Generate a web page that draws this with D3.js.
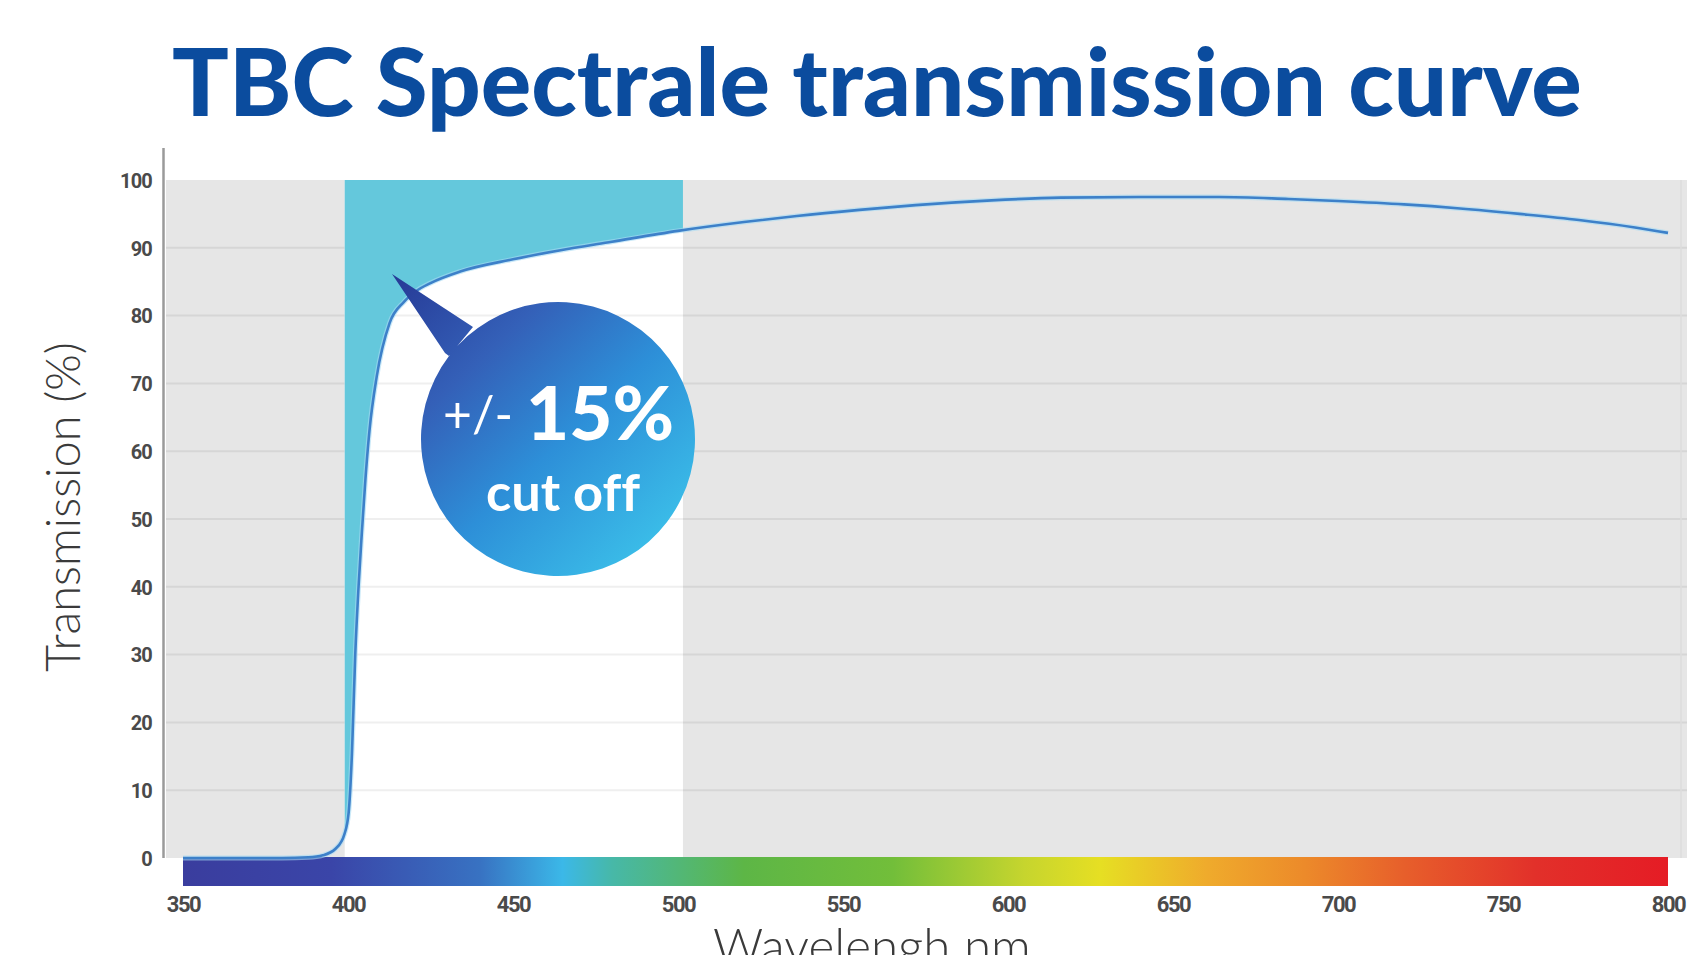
<!DOCTYPE html>
<html>
<head>
<meta charset="utf-8">
<script src="https://cdn.jsdelivr.net/npm/d3@7/dist/d3.min.js"></script>
<style>
  html, body { margin: 0; padding: 0; background: #fff; overflow: hidden; }
  svg { display: block; }
  text { font-variant-ligatures: none; }
</style>
</head>
<body>
<svg id="chart" width="1687" height="955"></svg>
<script>
// ---- data ----
const wavelengths = [350, 380, 388, 392.4, 396.3, 398.9, 400.2, 401.2, 402.2, 403.2, 404.2, 405.3, 406.5, 408.7, 412.6, 416.9, 420.6, 425, 434, 450, 464, 480, 500, 520, 536, 555, 572, 595, 616, 640, 664, 685, 700, 720, 737, 755, 773, 790, 800];
const transmission = [0, 0, 0.1, 0.4, 1.4, 3.5, 6.7, 15.4, 30, 40, 48, 56, 63, 71, 78.9, 82, 83.6, 84.8, 86.5, 88.3, 89.6, 90.9, 92.5, 93.8, 94.7, 95.6, 96.3, 97.0, 97.4, 97.5, 97.5, 97.2, 96.9, 96.4, 95.8, 95.0, 94.1, 93.0, 92.2];
const xTicks = [350, 400, 450, 500, 550, 600, 650, 700, 750, 800];
const yTicks = [0, 10, 20, 30, 40, 50, 60, 70, 80, 90, 100];
const cutoffBand = [399, 501.5];
const spectrumNm = [350, 395, 440, 465, 480, 520, 565, 605, 628, 660, 690, 720, 760, 800];
const spectrumColors = ["#3a3d9e", "#3a45a8", "#3872c2", "#3bb8e8", "#47b8a8", "#5db646", "#72be3a", "#c6d52e", "#e6df23", "#efab2c", "#ec8a2a", "#e75f2b", "#e2302a", "#e51c25"];
const titleText = "TBC Spectrale transmission curve";
const xLabel = "Wavelengh nm";
const yLabel = "Transmission (%)";

const svg = d3.select("#chart");
const x = d3.scaleLinear().domain([350, 800]).range([183, 1668]);
const y = d3.scaleLinear().domain([0, 100]).range([858, 180]);
const plotLeft = 166, plotRight = 1687;

const defs = svg.append("defs");
const spec = defs.append("linearGradient").attr("id", "spec")
  .attr("gradientUnits", "userSpaceOnUse")
  .attr("x1", x(350)).attr("x2", x(800)).attr("y1", 0).attr("y2", 0);
spectrumNm.forEach((nm, i) => spec.append("stop")
  .attr("offset", (nm - 350) / 450).attr("stop-color", spectrumColors[i]));

const bub = defs.append("linearGradient").attr("id", "bub")
  .attr("gradientUnits", "userSpaceOnUse")
  .attr("x1", 395).attr("y1", 280).attr("x2", 660).attr("y2", 560);
[[0, "#273b97"], [0.3, "#3460b8"], [0.6, "#2d8fd8"], [1, "#3cc2ea"]].forEach(s =>
  bub.append("stop").attr("offset", s[0]).attr("stop-color", s[1]));

// plot background (gray) with white cut-off band
svg.append("rect").attr("x", plotLeft).attr("y", y(100))
  .attr("width", plotRight - plotLeft).attr("height", y(0) - y(100)).attr("fill", "#e6e6e6");
svg.append("rect").attr("x", x(cutoffBand[0])).attr("y", y(100))
  .attr("width", x(cutoffBand[1]) - x(cutoffBand[0])).attr("height", y(0) - y(100)).attr("fill", "#ffffff");

// gridlines
const grid = yTicks.filter(v => v > 0 && v < 100);
svg.append("g").selectAll("line.g1").data(grid).join("line")
  .attr("x1", plotLeft).attr("x2", x(cutoffBand[0]))
  .attr("y1", d => y(d)).attr("y2", d => y(d))
  .attr("stroke", "#d6d6d6").attr("stroke-width", 2);
svg.append("g").selectAll("line.g2").data(grid).join("line")
  .attr("x1", x(cutoffBand[1])).attr("x2", plotRight)
  .attr("y1", d => y(d)).attr("y2", d => y(d))
  .attr("stroke", "#d6d6d6").attr("stroke-width", 2);
svg.append("g").selectAll("line.g3").data(grid).join("line")
  .attr("x1", x(cutoffBand[0])).attr("x2", x(cutoffBand[1]))
  .attr("y1", d => y(d)).attr("y2", d => y(d))
  .attr("stroke", "#efefef").attr("stroke-width", 2);
svg.append("line").attr("x1", 1681).attr("x2", 1681).attr("y1", y(100)).attr("y2", y(0))
  .attr("stroke", "#dcdcdc").attr("stroke-width", 1.5);

// cyan cut-off fill (area above the curve within the band)
const pts = wavelengths.map((w, i) => ({ w, t: transmission[i] }));
const interp = w => {
  for (let i = 1; i < pts.length; i++) {
    if (w <= pts[i].w) {
      const a = pts[i - 1], b = pts[i];
      return a.t + (b.t - a.t) * (w - a.w) / (b.w - a.w);
    }
  }
  return pts[pts.length - 1].t;
};
const bandPts = [{ w: cutoffBand[0], t: interp(cutoffBand[0]) }]
  .concat(pts.filter(p => p.w > cutoffBand[0] && p.w < cutoffBand[1]))
  .concat([{ w: cutoffBand[1], t: interp(cutoffBand[1]) }]);
svg.append("path").datum(bandPts)
  .attr("fill", "#64c8dc")
  .attr("d", d3.area().x(d => x(d.w)).y0(y(100)).y1(d => y(d.t)).curve(d3.curveMonotoneX));

// spectrum bar
svg.append("rect").attr("x", x(350)).attr("y", 857).attr("width", x(800) - x(350)).attr("height", 29)
  .attr("fill", "url(#spec)");

// transmission curve
const line = d3.line().x(d => x(d.w)).y(d => y(d.t)).curve(d3.curveMonotoneX);
svg.append("path").datum(pts)
  .attr("fill", "none").attr("stroke", "#a6dbf4").attr("stroke-width", 5).attr("opacity", 0.6)
  .attr("d", line);
svg.append("path").datum(pts)
  .attr("fill", "none").attr("stroke", "#3d80c9").attr("stroke-width", 2.6)
  .attr("d", line);

// left axis line
svg.append("line").attr("x1", 163.5).attr("x2", 163.5).attr("y1", 148).attr("y2", y(0))
  .attr("stroke", "#9a9a9a").attr("stroke-width", 2.5);

// y tick labels
const yAxis = svg.append("g").attr("transform", "translate(152,0)")
  .call(d3.axisLeft(y).tickValues(yTicks).tickSize(0).tickPadding(0).tickFormat(d3.format("d")));
yAxis.select(".domain").remove();
yAxis.selectAll("text").attr("font-family", "Roboto, sans-serif").attr("font-weight", 700)
  .attr("font-size", 20).attr("fill", "#4a4a4a").attr("letter-spacing", "-0.8px").attr("dy", "0.36em");

// x tick labels
const xAxis = svg.append("g").attr("transform", "translate(0,896)")
  .call(d3.axisBottom(x).tickValues(xTicks).tickSize(0).tickPadding(0).tickFormat(d3.format("d")));
xAxis.select(".domain").remove();
xAxis.selectAll("text").attr("font-family", "Roboto, sans-serif").attr("font-weight", 700)
  .attr("font-size", 22).attr("fill", "#4a4a4a").attr("letter-spacing", "-1.4px").attr("dy", "0.71em");

function fit(sel, width) {
  const fs = parseFloat(sel.attr("font-size"));
  const w = sel.node().getComputedTextLength();
  sel.attr("font-size", fs * width / w);
  return sel;
}

// title
fit(svg.append("text").text(titleText).attr("x", 172).attr("y", 116)
  .attr("font-family", "Lato, sans-serif").attr("font-weight", 900).attr("font-size", 86)
  .attr("fill", "#0b4c9e"), 1410);

// axis titles
fit(svg.append("text").text(yLabel).attr("transform", "translate(80,507) rotate(-90)")
  .attr("text-anchor", "middle").attr("font-family", "Lato, sans-serif").attr("font-weight", 300)
  .attr("font-size", 38).attr("fill", "#3a3a3a"), 330);
fit(svg.append("text").text(xLabel).attr("x", 713).attr("y", 964)
  .attr("font-family", "Lato, sans-serif").attr("font-weight", 300)
  .attr("font-size", 42).attr("fill", "#3a3a3a"), 318);

// callout bubble
const cx = 558, cy = 439, r = 137;
const bubble = d3.path();
bubble.moveTo(473, 327);
bubble.lineTo(392, 274);
bubble.lineTo(445, 353);
bubble.arc(cx, cy, r, Math.atan2(353 - cy, 445 - cx), Math.atan2(327 - cy, 473 - cx) + 2 * Math.PI, false);
bubble.closePath();
svg.append("path").attr("d", bubble.toString()).attr("fill", "url(#bub)");

fit(svg.append("text").text("+/-").attr("x", 443).attr("y", 432)
  .attr("font-family", "Lato, sans-serif").attr("font-weight", 400).attr("font-size", 40)
  .attr("fill", "#ffffff"), 70);
fit(svg.append("text").text("15%").attr("x", 526).attr("y", 440)
  .attr("font-family", "Lato, sans-serif").attr("font-weight", 900).attr("font-size", 78)
  .attr("fill", "#ffffff"), 148);
fit(svg.append("text").text("cut off").attr("x", 486).attr("y", 511)
  .attr("font-family", "Lato, sans-serif").attr("font-weight", 700).attr("font-size", 46)
  .attr("fill", "#ffffff"), 154);
</script>
</body>
</html>
